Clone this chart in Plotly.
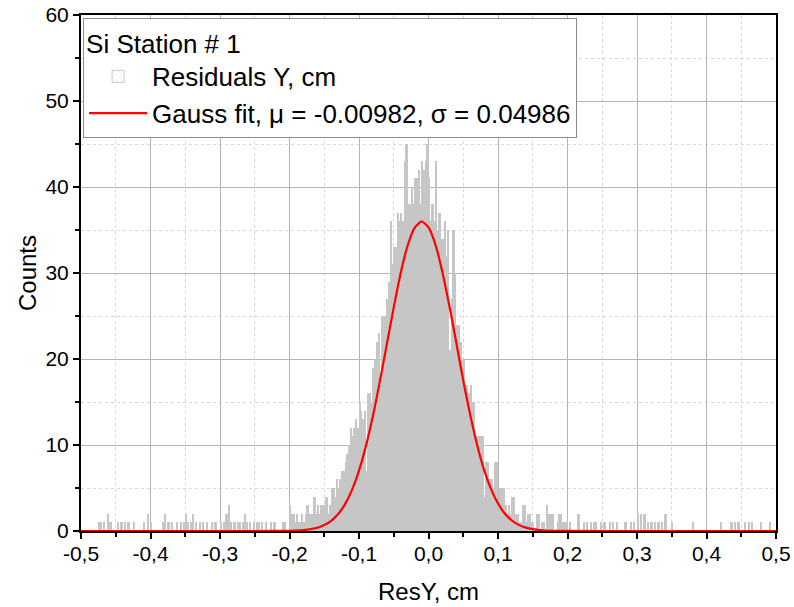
import numpy as np
import plotly.graph_objects as go

# ---------------- data ----------------
BIN_WIDTH = 0.0025
X_MIN, X_MAX = -0.5, 0.5

# counts for bins from -0.20 to 0.20 (4 bins per 0.01)
center_counts = [
    3, 2, 2, 1,   2, 1, 1, 2,   1, 2, 3, 2,   2, 2, 4, 2,   3, 2, 3, 3,
    3, 4, 2, 3,   5, 5, 4, 6,   5, 6, 7, 7,   8, 9, 10, 12, 11, 12, 13, 12,
    15, 14, 13, 14, 7, 16, 16, 15, 19, 20, 22, 23, 17, 25, 25, 25, 27, 29, 36, 31,
    33, 33, 37, 36, 37, 36, 43, 45, 38, 38, 40, 38, 41, 41, 42, 38, 43, 42, 43, 45,
    41, 36, 38, 36, 43, 35, 37, 34, 34, 36, 32, 35, 21, 27, 35, 30, 24, 24, 22, 20,
    20, 17, 17, 16, 17, 15, 15, 11, 11, 11, 11, 11, 4, 8, 8, 6,   6, 5, 8, 8,
    3, 5, 5, 5,   3, 2, 3, 2,   4, 4, 2, 2,   1, 1, 3, 3,   1, 2, 2, 1,
    1, 0, 2, 2,   0, 1, 1, 0,   3, 2, 2, 2,   0, 0, 1, 2,   2, 1, 1, 1,
]
center_start = -0.20

left_tail_x = [-0.474, -0.471, -0.466, -0.462, -0.459, -0.456, -0.445, -0.441, -0.436,
               -0.432, -0.423, -0.408, -0.403, -0.399, -0.381, -0.378, -0.375, -0.368,
               -0.361, -0.357, -0.352, -0.349, -0.346, -0.342, -0.338, -0.333, -0.328,
               -0.323, -0.318, -0.312, -0.307, -0.298, -0.294, -0.291, -0.288, -0.286,
               -0.283, -0.279, -0.274, -0.270, -0.267, -0.264, -0.261, -0.256, -0.252,
               -0.247, -0.243, -0.238, -0.233, -0.226, -0.222, -0.210, -0.207]
left_tail_counts = [1, 1, 1, 2, 1, 1, 1, 1, 1,
                    1, 1, 1, 2, 1, 1, 2, 1, 1,
                    1, 1, 1, 2, 1, 1, 2, 1, 1,
                    1, 1, 1, 1, 1, 1, 2, 2, 3,
                    1, 1, 1, 1, 1, 2, 1, 1, 1,
                    1, 1, 1, 1, 1, 1, 1, 1]

right_tail_x = [0.204, 0.217, 0.223, 0.228, 0.233, 0.238, 0.242, 0.249, 0.254, 0.261,
                0.266, 0.271, 0.283, 0.291, 0.296, 0.301, 0.306, 0.311, 0.316, 0.321,
                0.326, 0.331, 0.336, 0.341, 0.351, 0.381, 0.422, 0.436, 0.441, 0.446,
                0.456, 0.461, 0.467, 0.479, 0.491]
right_tail_counts = [1, 2, 1, 1, 1, 1, 1, 1, 1, 1,
                     1, 1, 1, 1, 1, 2, 2, 2, 1, 1,
                     1, 1, 1, 2, 1, 1, 1, 1, 1, 1,
                     1, 1, 1, 1, 1]

# Gauss fit curve
fit_x = [-0.50, -0.30, -0.22, -0.20, -0.18, -0.16, -0.15, -0.14, -0.13, -0.12, -0.11, -0.10,
         -0.09, -0.08, -0.07, -0.06, -0.05, -0.04, -0.03, -0.02, -0.01, 0.00, 0.01,
         0.02, 0.03, 0.04, 0.05, 0.06, 0.07, 0.08, 0.09, 0.10, 0.11, 0.12, 0.13,
         0.14, 0.15, 0.16, 0.18, 0.20, 0.30, 0.50]
fit_y = [0.0, 0.0, 0.004, 0.025, 0.106, 0.385, 0.69, 1.19, 1.97, 3.13, 4.78, 7.01,
         9.9, 13.36, 17.4, 21.7, 26.0, 30.0, 33.2, 35.25, 36.0, 35.3, 33.3,
         30.1, 26.2, 21.9, 17.5, 13.5, 10.0, 7.1, 4.87, 3.19, 2.0, 1.22, 0.71,
         0.395, 0.21, 0.109, 0.026, 0.005, 0.0, 0.0]

x_tick_vals = [-0.5, -0.4, -0.3, -0.2, -0.1, 0.0, 0.1, 0.2, 0.3, 0.4, 0.5]
x_tick_text = ["-0,5", "-0,4", "-0,3", "-0,2", "-0,1", "0,0", "0,1", "0,2", "0,3", "0,4", "0,5"]
x_minor_vals = [-0.45, -0.35, -0.25, -0.15, -0.05, 0.05, 0.15, 0.25, 0.35, 0.45]
y_tick_vals = [0, 10, 20, 30, 40, 50, 60]
y_minor_vals = [5, 15, 25, 35, 45, 55]

# ---------------- build histogram ----------------
n_bins = int(round((X_MAX - X_MIN) / BIN_WIDTH))
edges = X_MIN + BIN_WIDTH * np.arange(n_bins + 1)
centers = (edges[:-1] + edges[1:]) / 2
counts = np.zeros(n_bins)

def idx(xv):
    return int(np.clip(np.floor((xv - X_MIN) / BIN_WIDTH), 0, n_bins - 1))

start = idx(center_start + 1e-9)
counts[start:start + len(center_counts)] = center_counts
for xv, c in zip(left_tail_x, left_tail_counts):
    counts[idx(xv)] = c
for xv, c in zip(right_tail_x, right_tail_counts):
    counts[idx(xv)] = c

FONT = "Arial, Liberation Sans, sans-serif"
fig = go.Figure()

fig.add_trace(go.Bar(
    x=centers, y=counts, width=BIN_WIDTH,
    marker=dict(color="#c6c6c6", line=dict(width=0)),
    showlegend=False, hoverinfo="x+y",
))
# legend proxy for the hatched histogram symbol
fig.add_trace(go.Bar(
    x=[None], y=[None], name="Residuals Y, cm",
    marker=dict(color="white", line=dict(color="#c8c8c8", width=1),
                pattern=dict(shape="\\", fgcolor="#b8b8b8", bgcolor="white", size=5, solidity=0.15)),
))
fig.add_trace(go.Scatter(
    x=fit_x, y=fit_y, mode="lines", name="Gauss fit, \u03bc = -0.00982, \u03c3 = 0.04986",
    line=dict(color="#ff0000", width=2.2, shape="spline", smoothing=0.6),
    cliponaxis=False,
))

axis_common = dict(
    showline=True, linecolor="black", linewidth=2, mirror=True,
    ticks="outside", tickcolor="black", tickwidth=1.5, ticklen=6,
    showgrid=True, gridcolor="#b4b4b4", gridwidth=1,
    zeroline=False, automargin=False, layer="below traces",
    tickfont=dict(family=FONT, size=21, color="black"),
)

fig.update_layout(
    width=794, height=607,
    margin=dict(l=81, r=18, t=15, b=76),
    paper_bgcolor="white", plot_bgcolor="white",
    bargap=0,
    font=dict(family=FONT, color="black"),
    xaxis=dict(
        **axis_common, range=[X_MIN, X_MAX],
        tickmode="array", tickvals=x_tick_vals, ticktext=x_tick_text,
        ticklabelstandoff=-3,
        minor=dict(tickmode="array", tickvals=x_minor_vals, ticks="outside", ticklen=4,
                   tickcolor="black", showgrid=True, gridcolor="#d8d8d8", griddash="dot"),
        title=dict(text="ResY, cm", font=dict(family=FONT, size=24), standoff=19),
    ),
    yaxis=dict(
        **axis_common, range=[0, 60],
        tickmode="array", tickvals=y_tick_vals, ticktext=[str(v) for v in y_tick_vals],
        minor=dict(tickmode="array", tickvals=y_minor_vals, ticks="outside", ticklen=4,
                   tickcolor="black", showgrid=True, gridcolor="#d8d8d8", griddash="dot"),
        title=dict(text="Counts", font=dict(family=FONT, size=24), standoff=2),
    ),
    legend=dict(
        x=0.003, y=0.994, xanchor="left", yanchor="top",
        bgcolor="white", bordercolor="#8c8c8c", borderwidth=1,
        font=dict(family=FONT, size=26, color="black"),
        title=dict(text="Si Station # 1", font=dict(family=FONT, size=26)),
        itemwidth=58, tracegroupgap=0,
    ),
)

fig.write_html(
    "out.html",
    config={"displayModeBar": False},
    post_script="document.body.style.margin='0px';document.body.style.overflow='hidden';",
)
